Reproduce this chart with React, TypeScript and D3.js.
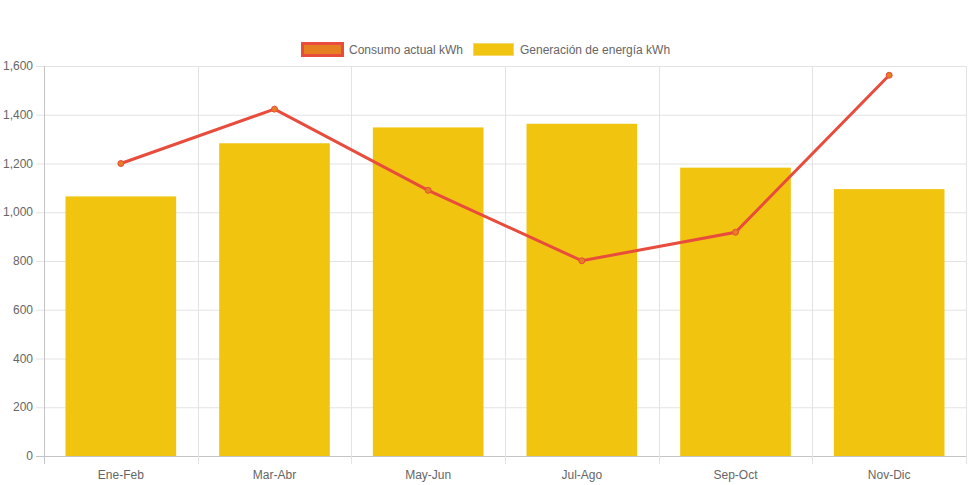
import { useEffect, useRef } from 'react';
import * as d3 from 'd3';

const categories = ['Ene-Feb', 'Mar-Abr', 'May-Jun', 'Jul-Ago', 'Sep-Oct', 'Nov-Dic'];
const consumo = [1200, 1423, 1090, 801, 918, 1562];
const generacion = [1065, 1283, 1348, 1363, 1183, 1095];
const yTicks = [0, 200, 400, 600, 800, 1000, 1200, 1400, 1600];
const legendLabels = ['Consumo actual kWh', 'Generación de energía kWh'];

const W = 971;
const H = 485;
const FONT = '"Liberation Sans", Arial, Helvetica, sans-serif';

const App = () => {
    const ref = useRef<SVGSVGElement>(null);

    useEffect(() => {
        const svg = d3.select(ref.current);
        svg.selectAll('*').remove();

        const margin = { top: 66, right: 5, bottom: 29, left: 44 };
        const width = W - margin.left - margin.right;
        const height = H - margin.top - margin.bottom;

        const x = d3.scaleBand().domain(categories).range([0, width]);
        const y = d3.scaleLinear().domain([0, 1600]).range([height, 0]);

        const g = svg.append('g')
            .attr('transform', 'translate(' + margin.left + ',' + margin.top + ')');

        // horizontal grid
        g.append('g')
            .selectAll('line')
            .data(yTicks)
            .join('line')
            .attr('x1', -8)
            .attr('x2', width)
            .attr('y1', (d) => y(d) + 0.5)
            .attr('y2', (d) => y(d) + 0.5)
            .attr('stroke', (d) => (d === 0 ? '#c4c4c4' : '#e3e3e3'))
            .attr('stroke-width', 1);

        // vertical grid
        const vLines = d3.range(categories.length + 1).map((i) => i * x.step());
        g.append('g')
            .selectAll('line')
            .data(vLines)
            .join('line')
            .attr('x1', (d) => Math.round(d) + 0.5)
            .attr('x2', (d) => Math.round(d) + 0.5)
            .attr('y1', 0)
            .attr('y2', height + 8)
            .attr('stroke', (d, i) => (i === 0 ? '#c4c4c4' : '#e3e3e3'))
            .attr('stroke-width', 1);

        // y labels
        g.append('g')
            .selectAll('text')
            .data(yTicks)
            .join('text')
            .attr('x', -11)
            .attr('y', (d) => y(d))
            .attr('dy', '0.35em')
            .attr('text-anchor', 'end')
            .style('font-family', FONT)
            .style('font-size', '12px')
            .style('fill', '#666')
            .text((d) => d3.format(',')(d));

        // x labels
        g.append('g')
            .selectAll('text')
            .data(categories)
            .join('text')
            .attr('x', (d) => x(d)! + x.bandwidth() / 2)
            .attr('y', height + 23)
            .attr('text-anchor', 'middle')
            .style('font-family', FONT)
            .style('font-size', '12px')
            .style('fill', '#666')
            .text((d) => d);

        // bars
        const barW = x.bandwidth() * 0.72;
        g.append('g')
            .selectAll('rect')
            .data(generacion)
            .join('rect')
            .attr('x', (d, i) => x(categories[i])! + (x.bandwidth() - barW) / 2)
            .attr('y', (d) => y(d))
            .attr('width', barW)
            .attr('height', (d) => y(0) - y(d))
            .attr('fill', '#f1c40f');

        // line
        const line = d3.line<number>()
            .x((d, i) => x(categories[i])! + x.bandwidth() / 2)
            .y((d) => y(d));

        g.append('path')
            .datum(consumo)
            .attr('d', line)
            .attr('fill', 'none')
            .attr('stroke', '#e74c3c')
            .attr('stroke-width', 3);

        g.append('g')
            .selectAll('circle')
            .data(consumo)
            .join('circle')
            .attr('cx', (d, i) => x(categories[i])! + x.bandwidth() / 2)
            .attr('cy', (d) => y(d))
            .attr('r', 3)
            .attr('fill', '#e67e22')
            .attr('stroke', '#e74c3c')
            .attr('stroke-width', 1);

        // legend
        const legend = svg.append('g');
        legend.append('rect')
            .attr('x', 302.5)
            .attr('y', 43.5)
            .attr('width', 40)
            .attr('height', 12)
            .attr('fill', '#e67e22')
            .attr('stroke', '#e74c3c')
            .attr('stroke-width', 3);
        legend.append('text')
            .attr('x', 349)
            .attr('y', 49.5)
            .attr('dy', '0.35em')
            .style('font-family', FONT)
            .style('font-size', '12px')
            .style('fill', '#666')
            .text(legendLabels[0]);
        legend.append('rect')
            .attr('x', 473.5)
            .attr('y', 43.5)
            .attr('width', 40)
            .attr('height', 12)
            .attr('fill', '#f1c40f')
            .attr('stroke', '#f5d76e')
            .attr('stroke-width', 1);
        legend.append('text')
            .attr('x', 520)
            .attr('y', 49.5)
            .attr('dy', '0.35em')
            .style('font-family', FONT)
            .style('font-size', '12px')
            .style('fill', '#666')
            .text(legendLabels[1]);
    }, []);

    return (
        <svg
            ref={ref}
            width={W}
            height={H}
            style={{ position: 'absolute', left: 0, top: 0, background: '#fff' }}
        />
    );
};

export default App;
